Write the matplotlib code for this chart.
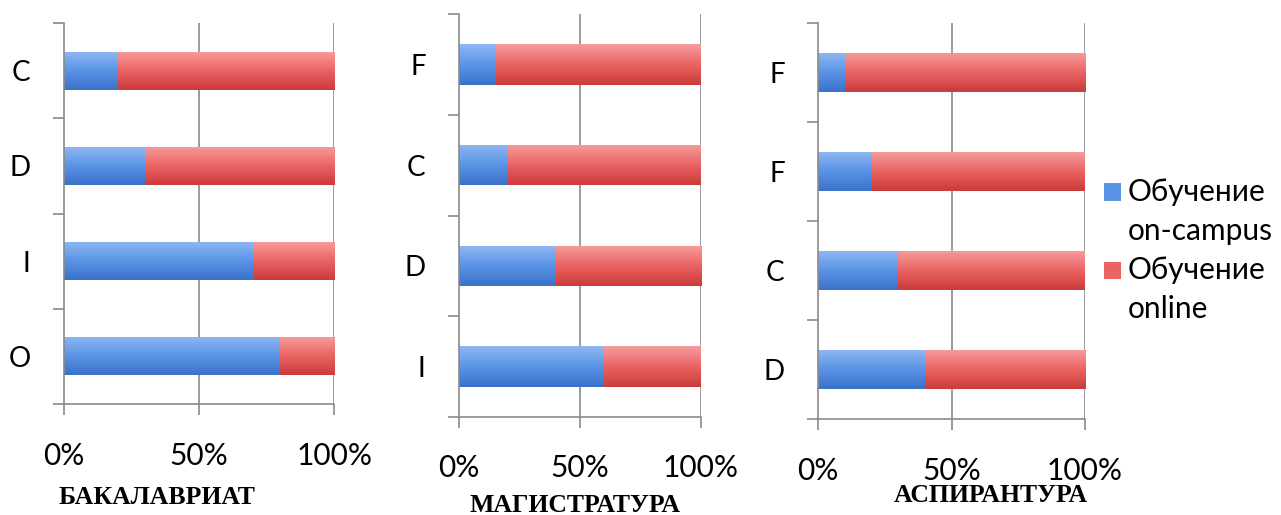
import matplotlib.pyplot as plt
import numpy as np
from matplotlib.colors import LinearSegmentedColormap
from matplotlib.patches import Rectangle

plt.rcParams['font.family'] = ['Lato', 'Open Sans', 'DejaVu Sans']

# доля очного обучения (сверху вниз), остальное — online
bak_labels = ["C", "D", "I", "O"]
bak_campus = [0.20, 0.30, 0.70, 0.80]

mag_labels = ["F", "C", "D", "I"]
mag_campus = [0.15, 0.20, 0.40, 0.60]

asp_labels = ["F", "F", "C", "D"]
asp_campus = [0.10, 0.20, 0.30, 0.40]

titles = ["БАКАЛАВРИАТ", "МАГИСТРАТУРА", "АСПИРАНТУРА"]
series_names = ["Обучение\non-campus", "Обучение\nonline"]

blue_cmap = LinearSegmentedColormap.from_list("b", ["#8fb8f2", "#5a94e6", "#3a72ca"])
red_cmap = LinearSegmentedColormap.from_list("r", ["#f79c9c", "#ea6464", "#cb3b3b"])
grid_col = "#8a8a8a"


def gradient_bars(ax, bars, cmap):
    # заливка каждого прямоугольника вертикальным градиентом
    grad = np.linspace(0, 1, 64).reshape(-1, 1)
    for b in bars:
        x0, y0 = b.get_x(), b.get_y()
        w, h = b.get_width(), b.get_height()
        b.set_facecolor("none")
        b.set_edgecolor("none")
        im = ax.imshow(grad, cmap=cmap, aspect="auto", origin="upper",
                       extent=(x0, x0 + w, y0 + h, y0), zorder=2,
                       interpolation="bilinear")
        im.set_clip_path(b)


def panel(ax, labels, campus):
    n = len(labels)
    y = np.arange(n)
    online = [1 - v for v in campus]
    b1 = ax.barh(y, campus, height=0.4, zorder=2)
    b2 = ax.barh(y, online, left=campus, height=0.4, zorder=2)
    gradient_bars(ax, b1, blue_cmap)
    gradient_bars(ax, b2, red_cmap)

    ax.set_xlim(0, 1)
    ax.set_ylim(n - 0.5, -0.5)
    ax.set_xticks([0, 0.5, 1])
    ax.set_xticklabels(["0%", "50%", "100%"])
    ax.set_yticks(y)
    ax.set_yticklabels(labels)
    ax.set_yticks(np.arange(n + 1) - 0.5, minor=True)

    for s in ["top", "right"]:
        ax.spines[s].set_visible(False)
    for s in ["left", "bottom"]:
        ax.spines[s].set_color(grid_col)
        ax.spines[s].set_linewidth(1.2)

    ax.tick_params(axis="y", which="major", length=0, pad=24, labelsize=20)
    ax.tick_params(axis="y", which="minor", length=8, width=1.2,
                   color=grid_col, direction="out")
    ax.tick_params(axis="x", length=8, width=1.2, color=grid_col,
                   direction="out", pad=19, labelsize=21.5)
    for xv in [0.5, 1.0]:
        ax.axvline(xv, color=grid_col, lw=1.2, zorder=1)


fig = plt.figure(figsize=(12.81, 5.15), dpi=100)

ax1 = fig.add_axes([0.0500, 0.2155, 0.2108, 0.7398])
ax2 = fig.add_axes([0.3583, 0.1903, 0.1889, 0.7825])
ax3 = fig.add_axes([0.6386, 0.1864, 0.2084, 0.7690])

panel(ax1, bak_labels, bak_campus)
panel(ax2, mag_labels, mag_campus)
panel(ax3, asp_labels, asp_campus)

# подписи под панелями
title_pos = [(157, 497), (575, 505), (991, 495)]
for t, (px, py) in zip(titles, title_pos):
    fig.text(px / 1281, 1 - py / 515, t, ha="center", va="center",
             family="Liberation Serif", fontweight="bold", fontsize=18.5)

# легенда
line_step = 39
first_line = 192
for i, (name, cmap) in enumerate(zip(series_names, [blue_cmap, red_cmap])):
    top_line = first_line + i * 2 * line_step
    sq = 17
    fig.patches.append(Rectangle((1104 / 1281, 1 - (top_line + sq / 2) / 515),
                                 sq / 1281, sq / 515, transform=fig.transFigure,
                                 facecolor=cmap(0.5), edgecolor="none"))
    for j, line in enumerate(name.split("\n")):
        fig.text(1128 / 1281, 1 - (top_line + j * line_step) / 515, line,
                 ha="left", va="center", fontsize=21.5)

fig.savefig("out.png", dpi=100)
